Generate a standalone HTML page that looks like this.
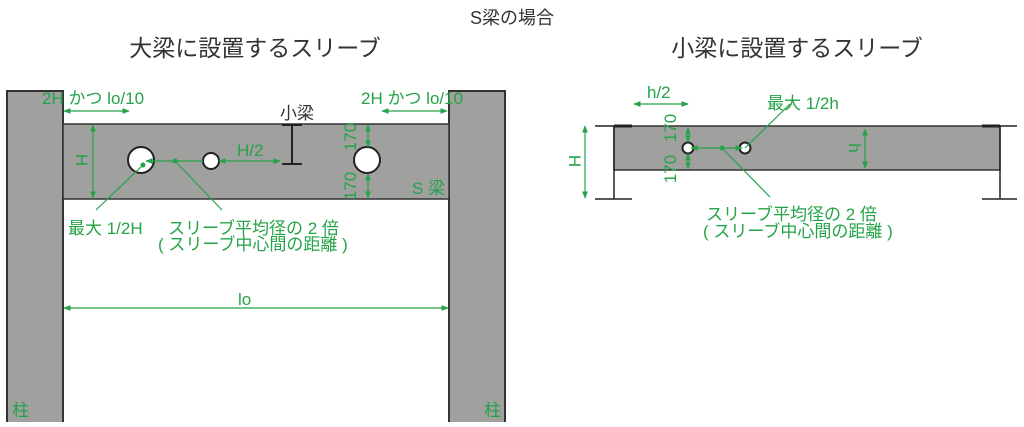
<!DOCTYPE html>
<html><head><meta charset="utf-8"><style>
body{margin:0;background:#fff;width:1024px;height:422px;overflow:hidden}
svg text{font-family:"Liberation Sans","Noto Sans CJK JP",sans-serif}
</style></head><body>
<svg width="1024" height="422" xmlns="http://www.w3.org/2000/svg">
<defs>
<marker id="a" viewBox="0 0 10 10" refX="9" refY="5" markerWidth="6" markerHeight="6" orient="auto-start-reverse"><path d="M0,1L10,5L0,9z" fill="#24a348"/></marker>
</defs>
<text x="512" y="24" font-size="18" text-anchor="middle" fill="#333">S梁の場合</text>
<text x="255" y="56" font-size="23" text-anchor="middle" fill="#333">大梁に設置するスリーブ</text>
<text x="797" y="56" font-size="23" text-anchor="middle" fill="#333">小梁に設置するスリーブ</text>
<!-- left diagram -->
<rect x="7" y="91" width="56" height="332" fill="#a0a09f" stroke="#333" stroke-width="2"/>
<rect x="449" y="91" width="56" height="332" fill="#a0a09f" stroke="#333" stroke-width="2"/>
<rect x="63" y="124" width="386" height="75" fill="#a0a09f" stroke="#333" stroke-width="1.5"/>
<circle cx="141" cy="160" r="13" fill="#fff" stroke="#222" stroke-width="2"/>
<circle cx="211" cy="161" r="8" fill="#fff" stroke="#222" stroke-width="2"/>
<circle cx="367" cy="160" r="13" fill="#fff" stroke="#222" stroke-width="2"/>
<path d="M282 125H302M292 125V164M282 164H302" stroke="#222" stroke-width="2" fill="none"/>
<g stroke="#24a348" stroke-width="1.2" fill="none">
<line x1="64" y1="111" x2="129" y2="111" marker-start="url(#a)" marker-end="url(#a)"/>
<line x1="382" y1="111" x2="447" y2="111" marker-start="url(#a)" marker-end="url(#a)"/>
<line x1="93" y1="125" x2="93" y2="198" marker-start="url(#a)" marker-end="url(#a)"/>
<line x1="146" y1="161" x2="203" y2="161" marker-start="url(#a)"/>
<line x1="219" y1="161" x2="280" y2="161" marker-start="url(#a)" marker-end="url(#a)"/>
<line x1="368" y1="125" x2="368" y2="147" marker-start="url(#a)" marker-end="url(#a)"/>
<line x1="368" y1="174" x2="368" y2="198" marker-start="url(#a)" marker-end="url(#a)"/>
<line x1="96" y1="210" x2="143" y2="165"/>
<line x1="222" y1="210" x2="175" y2="161"/>
<line x1="64" y1="308" x2="448" y2="308" marker-start="url(#a)" marker-end="url(#a)"/>
</g>
<circle cx="143" cy="165" r="2.5" fill="#24a348"/><circle cx="175" cy="161" r="2.5" fill="#24a348"/>
<g fill="#24a348" font-size="17">
<text x="42" y="104">2H かつ lo/10</text>
<text x="361" y="104">2H かつ lo/10</text>
<text x="237" y="156">H/2</text>
<text x="412" y="194">S 梁</text>
<text x="68" y="234">最大 1/2H</text>
<text x="168" y="234">スリーブ平均径の 2 倍</text>
<text x="158" y="250">( スリーブ中心間の距離 )</text>
<text x="238" y="305">lo</text>
<text x="12" y="416">柱</text>
<text x="484" y="416">柱</text>
<text transform="translate(76,160) rotate(90)" text-anchor="middle">H</text>
<text transform="translate(356,137) rotate(-90)" text-anchor="middle">170</text>
<text transform="translate(356,186) rotate(-90)" text-anchor="middle">170</text>
</g>
<text x="280" y="119" font-size="17" fill="#333">小梁</text>
<!-- right diagram -->
<rect x="614" y="126" width="386" height="44" fill="#a0a09f" stroke="#333" stroke-width="1.5"/>
<path d="M595 126H632M595 199H632M614 126V199M982 126H1017M982 199H1017M1000 126V199" stroke="#222" stroke-width="1.5" fill="none"/>
<path d="M614 126H632M982 126H1000" stroke="#222" stroke-width="3"/>
<circle cx="688" cy="148" r="5.5" fill="#fff" stroke="#222" stroke-width="2"/>
<circle cx="745" cy="148" r="5.5" fill="#fff" stroke="#222" stroke-width="2"/>
<g stroke="#24a348" stroke-width="1.2" fill="none">
<line x1="585" y1="126" x2="585" y2="198" marker-start="url(#a)" marker-end="url(#a)"/>
<line x1="634" y1="104" x2="688" y2="104" marker-start="url(#a)" marker-end="url(#a)"/>
<line x1="688" y1="128" x2="688" y2="142" marker-start="url(#a)" marker-end="url(#a)"/>
<line x1="688" y1="154" x2="688" y2="169" marker-start="url(#a)" marker-end="url(#a)"/>
<line x1="865" y1="129" x2="865" y2="168" marker-start="url(#a)" marker-end="url(#a)"/>
<line x1="691" y1="148" x2="742" y2="148" marker-start="url(#a)" marker-end="url(#a)"/>
<line x1="745" y1="148" x2="790" y2="104"/>
<line x1="722" y1="148" x2="770" y2="197"/>
</g>
<circle cx="722" cy="148" r="2.5" fill="#24a348"/>
<g fill="#24a348" font-size="17">
<text x="647" y="98">h/2</text>
<text x="767" y="109">最大 1/2h</text>
<text x="706" y="220">スリーブ平均径の 2 倍</text>
<text x="703" y="237">( スリーブ中心間の距離 )</text>
<text transform="translate(569,161) rotate(90)" text-anchor="middle">H</text>
<text transform="translate(849,148) rotate(90)" text-anchor="middle">h</text>
<text transform="translate(676,128) rotate(-90)" text-anchor="middle">170</text>
<text transform="translate(676,169) rotate(-90)" text-anchor="middle">170</text>
</g>
</svg>
</body></html>
